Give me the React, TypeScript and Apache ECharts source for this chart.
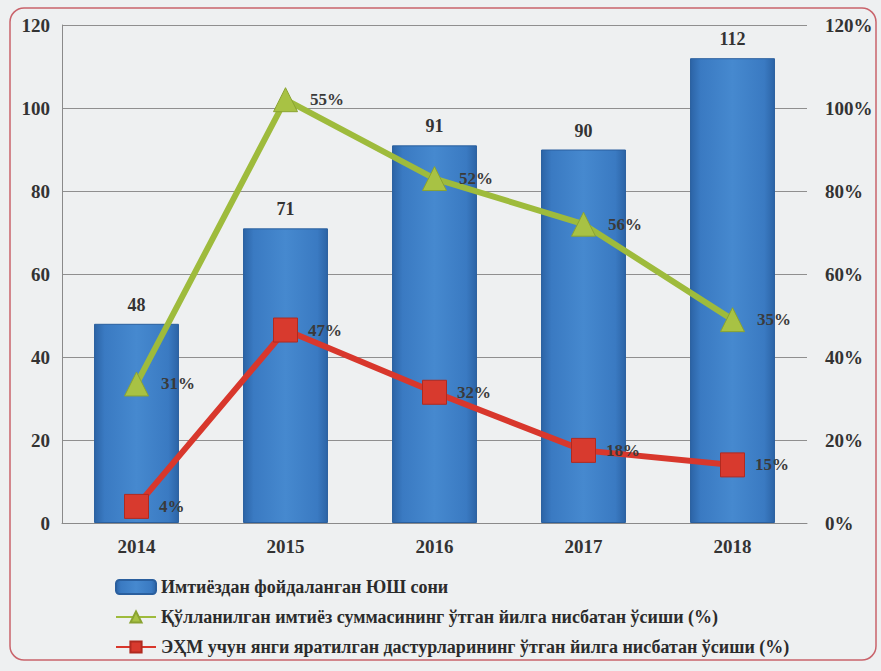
import React, { useEffect, useRef } from "react";
import * as echarts from "echarts";

const years = ["2014", "2015", "2016", "2017", "2018"];
const barValues = [48, 71, 91, 90, 112];
// plotted positions and printed labels
const greenValues = [33.5, 102, 83, 72, 49];
const greenLabels = ["31%", "55%", "52%", "56%", "35%"];
const redValues = [4, 46.5, 31.5, 17.5, 14];
const redLabels = ["4%", "47%", "32%", "18%", "15%"];
const legendNames = [
  "Имтиёздан фойдаланган ЮШ сони",
  "Қўлланилган имтиёз суммасининг ўтган йилга нисбатан ўсиши (%)",
  "ЭҲМ учун янги яратилган дастурларининг ўтган йилга нисбатан ўсиши (%)",
];

const FONT = "'Liberation Serif', 'DejaVu Serif', serif";

export default function App() {
  const ref = useRef<HTMLDivElement>(null);
  useEffect(() => {
    const chart = echarts.init(ref.current!, null, { renderer: "svg" });
    chart.setOption({
      animation: false,
      backgroundColor: "#eef0f1",
      textStyle: { fontFamily: FONT },
      graphic: [
        {
          type: "rect",
          shape: { x: 10, y: 8, width: 866, height: 652, r: 14 },
          style: { fill: "none", stroke: "#c9636b", lineWidth: 1.5 },
          z: 0,
        },
      ],
      grid: { left: 62, right: 74, top: 25, bottom: 148 },
      legend: {
        orient: "vertical",
        left: 110,
        top: 573,
        itemGap: 12,
        itemWidth: 40,
        itemHeight: 14,
        textStyle: { fontFamily: FONT, fontSize: 18, fontWeight: "bold", color: "#2b2b2b" },
        data: legendNames,
      },
      xAxis: {
        type: "category",
        data: years,
        axisLine: { show: true, lineStyle: { color: "#8a8a8a", width: 1 } },
        axisTick: { show: false },
        axisLabel: { fontFamily: FONT, fontSize: 19, fontWeight: "bold", color: "#333", margin: 14 },
      },
      yAxis: [
        {
          type: "value",
          min: 0,
          max: 120,
          interval: 20,
          axisLine: { show: true, lineStyle: { color: "#8a8a8a" } },
          axisTick: { show: false },
          splitLine: { lineStyle: { color: "#8f8f8f", width: 1 } },
          axisLabel: { fontFamily: FONT, fontSize: 19, fontWeight: "bold", color: "#333", margin: 12 },
        },
        {
          type: "value",
          min: 0,
          max: 120,
          interval: 20,
          axisLine: { show: false },
          axisTick: { show: false },
          splitLine: { show: false },
          axisLabel: {
            fontFamily: FONT,
            fontSize: 19,
            fontWeight: "bold",
            color: "#333",
            margin: 18,
            formatter: "{value}%",
          },
        },
      ],
      series: [
        {
          name: legendNames[0],
          type: "bar",
          data: barValues,
          barWidth: "57%",
          itemStyle: {
            color: new echarts.graphic.LinearGradient(0, 0, 1, 0, [
              { offset: 0, color: "#2c64a6" },
              { offset: 0.12, color: "#3a7ac2" },
              { offset: 0.5, color: "#4689cf" },
              { offset: 0.88, color: "#3a7ac2" },
              { offset: 1, color: "#2c64a6" },
            ]),
            borderColor: "#2a5f9e",
            borderWidth: 1,
          },
          label: {
            show: true,
            position: "top",
            distance: 10,
            fontFamily: FONT,
            fontSize: 18,
            fontWeight: "bold",
            color: "#333",
          },
          z: 2,
        },
        {
          name: legendNames[1],
          type: "line",
          yAxisIndex: 1,
          data: greenValues,
          symbol: "triangle",
          symbolSize: 24,
          lineStyle: { color: "#9ebb3c", width: 6 },
          itemStyle: { color: "#a8c244", borderColor: "#8aa332", borderWidth: 1 },
          label: {
            show: true,
            position: "right",
            distance: 12,
            fontFamily: FONT,
            fontSize: 17,
            fontWeight: "bold",
            color: "#3a3a3a",
            formatter: (p: any) => greenLabels[p.dataIndex],
          },
          z: 4,
        },
        {
          name: legendNames[2],
          type: "line",
          yAxisIndex: 1,
          data: redValues,
          symbol: "rect",
          symbolSize: 24,
          lineStyle: { color: "#d8372c", width: 6 },
          itemStyle: { color: "#d83a2e", borderColor: "#b02a20", borderWidth: 1 },
          label: {
            show: true,
            position: "right",
            distance: 10,
            fontFamily: FONT,
            fontSize: 17,
            fontWeight: "bold",
            color: "#3a3a3a",
            formatter: (p: any) => redLabels[p.dataIndex],
          },
          z: 5,
        },
      ],
    });
    return () => chart.dispose();
  }, []);
  return (
    <div
      ref={ref}
      style={{ position: "fixed", left: 0, top: 0, width: 881, height: 671 }}
    />
  );
}
